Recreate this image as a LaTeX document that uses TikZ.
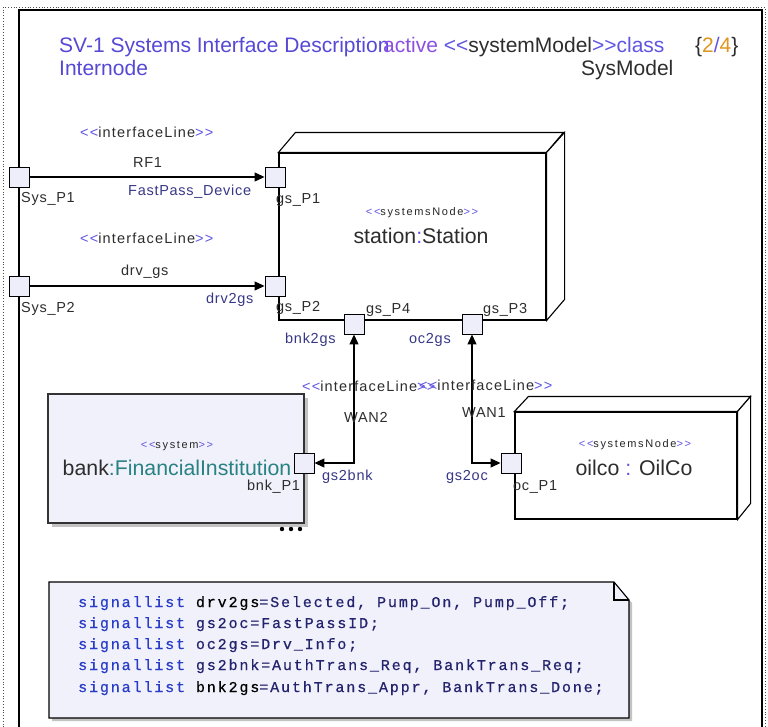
\documentclass[tikz,border=0pt]{standalone}
\usepackage{fontspec}
\setmainfont{Liberation Sans}
\newfontfamily\lsp[LetterSpace=5]{Liberation Sans}
\newfontfamily\lspi[LetterSpace=8]{Liberation Sans}
\newfontfamily\lspw[LetterSpace=15]{Liberation Sans}
\newfontfamily\notefont[LetterSpace=12.5,FakeBold=0.6]{Liberation Mono}
\usetikzlibrary{arrows.meta}
\definecolor{ttlblue}{RGB}{85,72,212}
\definecolor{stblue}{RGB}{95,85,225}
\definecolor{actpurple}{RGB}{140,80,225}
\definecolor{lblblue}{RGB}{55,55,135}
\definecolor{txtgray}{RGB}{45,45,45}
\definecolor{teal}{RGB}{40,130,130}
\definecolor{pgorange}{RGB}{222,150,30}
\definecolor{portfill}{RGB}{238,238,250}
\definecolor{boxfill}{RGB}{241,241,252}
\definecolor{shadowgray}{RGB}{195,195,195}
\definecolor{kwblue}{RGB}{40,60,200}
\definecolor{navy}{RGB}{35,35,110}
\newcommand\stl{{\color{stblue}<{}<}}
\newcommand\str{{\color{stblue}>{}>}}
\begin{document}
\begin{tikzpicture}[x=1pt,y=-1pt,
  port/.style={draw=black, fill=portfill, line width=0.9pt, minimum size=20pt, inner sep=0pt},
  lbl/.style={anchor=base west, inner sep=0pt, text=txtgray, font=\lsp\fontsize{14.5}{17}\selectfont},
  ilbl/.style={lbl, font=\lspi\fontsize{14.5}{17}\selectfont},
  dlbl/.style={lbl, text=lblblue},
  ttl/.style={anchor=base west, inner sep=0pt, font=\fontsize{21}{25}\selectfont},
  big/.style={anchor=base, inner sep=0pt, text=txtgray, font=\fontsize{21.3}{25}\selectfont},
  smallst/.style={anchor=base, inner sep=0pt, text=black!85, font=\lspw\fontsize{11}{13}\selectfont},
  noteline/.style={anchor=base west, inner sep=0pt, text=navy, font=\notefont\fontsize{15}{18}\selectfont},
  conn/.style={line width=1.1pt, -{Triangle[length=10pt,width=9pt]}},
  conn2/.style={line width=1.1pt, {Triangle[length=10pt,width=9pt]}-{Triangle[length=10pt,width=9pt]}},
  solidbox/.style={draw=black, line width=1.1pt, fill=white}]
\useasboundingbox (0,0) rectangle (768,726);
% frames
\draw[dotted, line width=0.8pt, black!70] (3,730) -- (3,7) -- (765,7) -- (765,730);
\draw[line width=1.4pt] (19,730) -- (19,10) -- (762,10) -- (762,730);
% title
\node[ttl, text=ttlblue] (t1) at (59,52) {SV-1 Systems Interface Description};
\node[ttl, text=ttlblue] (t2) at (59,75) {Internode};
\node[ttl, text=actpurple] (t3) at (383,52) {active {\color{stblue}<{}<}{\color{txtgray}systemModel}{\color{stblue}>{}>class}};
\node[ttl, text=txtgray] (t4) at (581,75) {SysModel};
\node[ttl, text=txtgray] (t5) at (695,52) {\{{\color{pgorange}2}{\color{stblue}/}{\color{pgorange}4}\}};
% station node
\node[solidbox, minimum width=267pt, minimum height=167pt, inner sep=0pt] (station) at (412.5,236.5) {};
\draw[line width=1.1pt, fill=white] (station.north west) -- ++(17,-20) -- ++(268,0) -- (station.north east) -- cycle;
\draw[line width=1.1pt, fill=white] (station.north east) -- ++(18,-20) -- ++(0,167) -- (station.south east) -- cycle;
\node[smallst] (stst) at (422,215) {\stl systemsNode\str};
\node[big] (stname) at (421,243) {station{\color{stblue}:}Station};
% oilco node
\node[solidbox, minimum width=222pt, minimum height=107pt, inner sep=0pt] (oilco) at (626,465.5) {};
\draw[line width=1.1pt, fill=white] (oilco.north west) -- ++(14,-15) -- ++(222,0) -- (oilco.north east) -- cycle;
\draw[line width=1.1pt, fill=white] (oilco.north east) -- ++(13,-15) -- ++(0,107) -- (oilco.south east) -- cycle;
\node[smallst] (ocst) at (635,447) {\stl systemsNode\str};
\node[big] (ocname) at (634,475) {oilco {\color{stblue}:} OilCo};
% bank node
\fill[shadowgray] (52,398) rectangle (308,527);
\node[draw=black!80, fill=boxfill, line width=1.3pt, minimum width=256pt, minimum height=129pt, inner sep=0pt] (bank) at (176,458.5) {};
\node[smallst] (bkst) at (177,448) {\stl system\str};
\node[big] (bkname) at (177,475) {bank{\color{teal}:FinancialInstitution}};
\fill[black] (282,529) circle (2.2) (291,529) circle (2.2) (300,529) circle (2.2);
% ports
\node[port] (sp1) at (19,177) {};
\node[port] (sp2) at (19,286) {};
\node[port] (gp1) at (275,177) {};
\node[port] (gp2) at (275,286) {};
\node[port] (gp4) at (354,324) {};
\node[port] (gp3) at (472,324) {};
\node[port] (bp1) at (304,463) {};
\node[port] (op1) at (511,463) {};
% port labels
\node[lbl] (lsp1) at (21,202) {Sys\_P1};
\node[lbl] (lsp2) at (21,312) {Sys\_P2};
\node[lbl] (lgp1) at (276,203) {gs\_P1};
\node[lbl] (lgp2) at (276,311) {gs\_P2};
\node[lbl] (lgp4) at (366,313) {gs\_P4};
\node[lbl] (lgp3) at (483,313) {gs\_P3};
\node[lbl] (lbp1) at (247,490) {bnk\_P1};
\node[lbl] (lop1) at (513,490) {oc\_P1};
% connectors
\draw[conn] (sp1.east) -- (gp1.west);
\draw[conn] (sp2.east) -- (gp2.west);
\draw[conn2] (bp1.east) -| (gp4.south);
\draw[conn2] (op1.west) -| (gp3.south);
% connector labels
\node[ilbl] (il1) at (80,137) {\stl interfaceLine\str};
\node[lbl] (rf1) at (133,167) {RF1};
\node[dlbl] (fpd) at (128,195) {FastPass\_Device};
\node[ilbl] (il2) at (80,243) {\stl interfaceLine\str};
\node[lbl] (drv) at (121,275) {drv\_gs};
\node[dlbl] (d2g) at (206,303) {drv2gs};
\node[dlbl] (b2g) at (285,343) {bnk2gs};
\node[dlbl] (o2g) at (409,343) {oc2gs};
\node[ilbl] (il3) at (302,391) {\stl interfaceLine\str};
\node[ilbl] (il4) at (419,390) {\stl interfaceLine\str};
\node[lbl] (wan2) at (344,422) {WAN2};
\node[lbl] (wan1) at (462,417) {WAN1};
\node[dlbl] (g2b) at (322,480) {gs2bnk};
\node[dlbl] (g2o) at (446,480) {gs2oc};
% note
\fill[shadowgray] (52,585) -- (617,585) -- (632,603) -- (632,721) -- (52,721) -- cycle;
\draw[line width=1.1pt, fill=boxfill] (49,582) -- (614,582) -- (629,600) -- (629,718) -- (49,718) -- cycle;
\draw[line width=1.1pt] (614,582) -- (614,600) -- (629,600);
\node[noteline] (n1) at (78,607) {{\color{kwblue}signallist} {\color{black}drv2gs}=Selected, Pump\_On, Pump\_Off;};
\node[noteline] (n2) at (78,628) {{\color{kwblue}signallist} gs2oc=FastPassID;};
\node[noteline] (n3) at (78,649) {{\color{kwblue}signallist} oc2gs=Drv\_Info;};
\node[noteline] (n4) at (78,670) {{\color{kwblue}signallist} gs2bnk=AuthTrans\_Req, BankTrans\_Req;};
\node[noteline] (n5) at (78,692) {{\color{kwblue}signallist} {\color{black}bnk2gs}=AuthTrans\_Appr, BankTrans\_Done;};
\end{tikzpicture}
\end{document}
